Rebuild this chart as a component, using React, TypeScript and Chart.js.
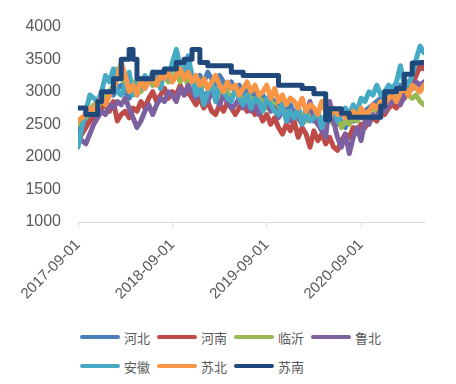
import React, { useEffect, useRef } from 'react';
import { Chart, registerables } from 'chart.js';

Chart.register(...registerables);

// Semi-monthly observations from 2017-09 to 2021-05 (index i = half-month step)
const seriesNames = ['河北', '河南', '临沂', '鲁北', '安徽', '苏北', '苏南'];
const seriesColors = ['#4A7EBB', '#BE4B48', '#98B954', '#7D60A0', '#46AAC5', '#F79646', '#1F497D'];
const xTickLabels = ['2017-09-01', '2018-09-01', '2019-09-01', '2020-09-01'];
const yMin = 1000;
const yMax = 4000;
const yStep = 500;

const hebei = [
  2400, 2500, 2550, 2650, 2750, 2800, 2850, 2900, 3000, 2950,
  3050, 3100, 3000, 2900, 3050, 2950, 3100, 3050, 3200, 3100,
  3250, 3150, 3300, 3250, 3400, 3500, 3300, 3200, 3350, 3250,
  3150, 3250, 3150, 3300, 3200, 3100, 3250, 3150, 3050, 3150,
  3000, 3100, 2950, 3050, 2900, 3000, 2850, 2950, 2800, 2900,
  2850, 2750, 2850, 2700, 2800, 2650, 2750, 2600, 2700, 2650,
  2550, 2650, 2500, 2600, 2550, 2650, 2500, 2550, 2450, 2600,
  2550, 2650, 2600, 2700, 2750, 2800, 2850, 2900, 2950, 3000,
  3050, 3000, 3100, 3050, 3150, 3200, 3300, 3350, 3400,
];
const henan = [
  2250, 2350, 2450, 2550, 2600, 2700, 2750, 2800, 2700, 2850,
  2550, 2650, 2700, 2600, 2750, 2700, 2850, 2750, 2900, 3000,
  2850, 2950, 3050, 2900, 3000, 2950, 3100, 2950, 3000, 2900,
  2800, 2900, 2750, 2850, 2700, 2650, 2800, 2700, 2850, 2750,
  2650, 2750, 2850, 2700, 2800, 2650, 2700, 2550, 2650, 2500,
  2600, 2450, 2350, 2500, 2400, 2550, 2300, 2450, 2350, 2150,
  2400, 2250, 2350, 2200, 2300, 2150, 2100, 2250, 2350, 2300,
  2450, 2400, 2500, 2450, 2550, 2600, 2550, 2700, 2650, 2750,
  2800, 2750, 2850, 2900, 3000, 3100, 3250, 3400, 3350,
];
const linyi = [
  2500, 2550, 2600, 2700, 2800, 2750, 2900, 2950, 3000, 3100,
  3350, 3250, 3100, 3050, 3150, 3100, 3000, 3150, 3200, 3100,
  3200, 3100, 3250, 3150, 3200, 3300, 3150, 3250, 3100, 3200,
  3100, 3000, 3150, 3050, 3100, 3000, 2950, 3050, 3000, 2900,
  3000, 2950, 2850, 2950, 2900, 2800, 2900, 2850, 2750, 2850,
  2800, 2700, 2750, 2650, 2700, 2600, 2700, 2650, 2550, 2650,
  2600, 2500, 2600, 2550, 2650, 2500, 2600, 2450, 2550, 2500,
  2600, 2550, 2650, 2600, 2700, 2750, 2700, 2800, 2750, 2850,
  2900, 2850, 2950, 3000, 2950, 2900, 2950, 2850, 2800,
];
const lubei = [
  2300, 2250, 2200, 2350, 2500, 2600, 2700, 2650, 2800, 2750,
  2850, 2800, 2900, 2750, 2600, 2450, 2550, 2700, 2800, 2650,
  2800, 2900, 2850, 3000, 2950, 2850, 3050, 2950, 3100, 3000,
  2900, 3050, 2950, 2850, 3000, 2900, 2800, 2950, 2850, 2750,
  2800, 2900, 2750, 2850, 2700, 2800, 2650, 2750, 2850, 2700,
  2750, 2600, 2700, 2650, 2550, 2700, 2600, 2500, 2650, 2850,
  2600, 2500, 2400, 2300, 2850, 2550, 2300, 2150, 2350, 2050,
  2300, 2450, 2250, 2550, 2500, 2650, 2600, 2750, 2700, 2800,
  2850, 2900, 2800, 2950, 3000, 3050, 3150, 3100, 3150,
];
const anhui = [
  2150, 2450, 2700, 2950, 2900, 2850, 3000, 3250, 3150, 3350,
  3000, 2950, 3100, 3300, 2950, 3150, 3050, 3250, 3150, 3300,
  3200, 3050, 3350, 3200, 3450, 3650, 3400, 3300, 3550, 3250,
  2950, 3100, 2800, 3000, 3150, 2850, 3100, 3000, 2900, 2850,
  3050, 2900, 2800, 2950, 2750, 2900, 2850, 2700, 2900, 2800,
  2700, 2650, 2800, 2550, 2700, 2600, 2750, 2500, 2650, 2550,
  2600, 2700, 2450, 2650, 2600, 2700, 2550, 2650, 2750, 2650,
  2800, 2700, 2900, 2850, 3000, 2950, 3100, 2950, 3000, 3100,
  3050, 3150, 3400, 3100, 3100, 3250, 3500, 3700, 3600,
];
const subei = [
  2550, 2600, 2650, 2750, 2700, 2850, 2900, 2800, 2950, 3050,
  3200, 3450, 3250, 3000, 3100, 2950, 3200, 3050, 3150, 3250,
  3100, 3250, 3200, 3300, 3150, 3250, 3350, 3200, 3300, 3150,
  3250, 3100, 3200, 3050, 3150, 3250, 3100, 3000, 3150, 3050,
  3100, 2950, 3050, 3150, 3000, 3100, 2950, 3000, 3100, 2900,
  3050, 2850, 2950, 2800, 2900, 2850, 2750, 2900, 2700, 2800,
  2750, 2650, 2850, 2700, 2600, 2750, 2650, 2700, 2600, 2650,
  2700, 2600, 2750, 2650, 2700, 2800, 2750, 2850, 2800, 2900,
  2950, 2850, 3000, 3050, 2950, 3100, 3050, 3000, 3100,
];
const sunan = [
  2750, 2750, 2650, 2650, 2650, 2850, 3000, 3000, 3000, 3200,
  3200, 3500, 3500, 3650, 3500, 3200, 3200, 3200, 3200, 3300,
  3300, 3300, 3350, 3350, 3350, 3450, 3450, 3500, 3500, 3650,
  3650, 3450, 3450, 3400, 3400, 3400, 3400, 3400, 3400, 3300,
  3300, 3300, 3250, 3250, 3250, 3250, 3250, 3250, 3250, 3250,
  3250, 3100, 3100, 3100, 3100, 3100, 3100, 3050, 3050, 3050,
  2970, 2970, 2970, 2570, 2740, 2740, 2740, 2670, 2670, 2610,
  2610, 2610, 2610, 2610, 2610, 2610, 2610, 2780, 3000, 3000,
  3000, 3050, 3050, 3270, 3270, 3440, 3440, 3450, 3450,
];

const seriesValues = [hebei, henan, linyi, lubei, anhui, subei, sunan];

export default function App() {
  const canvasRef = useRef<HTMLCanvasElement | null>(null);

  useEffect(() => {
    if (!canvasRef.current) return;
    const datasets = seriesValues.map((vals, k) => ({
      label: seriesNames[k],
      data: vals.map((v, i) => ({ x: i / 2, y: v })),
      borderColor: seriesColors[k],
      backgroundColor: seriesColors[k],
      borderWidth: 5,
      pointRadius: 0,
      tension: 0,
      fill: false,
      borderJoinStyle: 'round' as const,
      borderCapStyle: 'round' as const,
      stepped: k === 6 ? ('before' as const) : false,
      order: seriesNames.length - k,
    }));
    const chart = new Chart(canvasRef.current, {
      type: 'line',
      data: { datasets },
      options: {
        animation: false,
        responsive: false,
        devicePixelRatio: 1,
        layout: { padding: { top: 11, right: 32, left: 0, bottom: 0 } },
        plugins: {
          legend: { display: false },
          tooltip: { enabled: false },
        },
        scales: {
          x: {
            type: 'linear',
            min: 0,
            max: 44,
            grid: {
              drawOnChartArea: false,
              drawTicks: true,
              tickLength: 5,
              color: '#D9D9D9',
            },
            border: { display: true, color: '#D9D9D9', width: 1 },
            ticks: {
              stepSize: 12,
              includeBounds: false,
              autoSkip: false,
              maxRotation: 45,
              minRotation: 45,
              padding: 9,
              color: '#595959',
              font: { family: 'Liberation Sans, Arial, sans-serif', size: 15 },
              callback: (value: any) => {
                const idx = Math.round(Number(value) / 12);
                return xTickLabels[idx] ?? '';
              },
            },
            afterFit: (s: any) => {
              s.height = 78;
            },
          },
          y: {
            type: 'linear',
            min: yMin,
            max: yMax,
            grid: { display: false, drawTicks: false },
            border: { display: false },
            ticks: {
              stepSize: yStep,
              padding: 17,
              color: '#595959',
              font: { family: 'Liberation Sans, Arial, sans-serif', size: 16 },
              callback: (value: any) => String(value),
            },
            afterFit: (s: any) => {
              s.width = 78;
            },
          },
        },
      },
    });
    return () => chart.destroy();
  }, []);

  return (
    <div style={{ position: 'absolute', left: 0, top: 0, width: 456, height: 384, background: '#fff' }}>
      <canvas ref={canvasRef} width={456} height={300} style={{ width: 456, height: 300, display: 'block' }} />
      {seriesNames.map((name, k) => {
        const col = k % 4;
        const row = Math.floor(k / 4);
        return (
          <div
            key={name}
            style={{
              position: 'absolute',
              left: 80 + col * 77,
              top: 328 + row * 29,
              height: 18,
              display: 'flex',
              alignItems: 'center',
              fontFamily: '"Noto Sans CJK SC", sans-serif',
              fontSize: 13,
              color: '#595959',
              whiteSpace: 'nowrap',
            }}
          >
            <span
              style={{
                display: 'inline-block',
                width: 40,
                height: 4,
                borderRadius: 2,
                background: seriesColors[k],
                marginRight: 4,
              }}
            />
            <span>{name}</span>
          </div>
        );
      })}
    </div>
  );
}
